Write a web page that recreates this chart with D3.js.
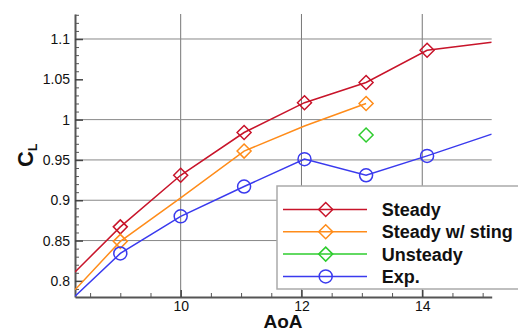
<!DOCTYPE html>
<html>
<head>
<meta charset="utf-8">
<script src="https://cdn.jsdelivr.net/npm/d3@7"></script>
<style>
  body { margin: 0; background: #fff; }
  svg { display: block; font-family: "Liberation Sans", Arial, sans-serif; }
</style>
</head>
<body>
<svg id="chart" width="518" height="334"></svg>
<script>
// values
var xTicks = [10, 12, 14];
var yTicks = [0.8, 0.85, 0.9, 0.95, 1, 1.05, 1.1];
var yTickLabels = ["0.8", "0.85", "0.9", "0.95", "1", "1.05", "1.1"];
var xGrid = [10, 12, 14];
var yGrid = [0.85, 0.9, 0.95, 1, 1.1];

var steadyAoA = [8.25, 9, 10, 11.05, 12.05, 13.07, 14.08, 15.15];
var steadyCL  = [0.811, 0.867, 0.931, 0.984, 1.021, 1.046, 1.086, 1.096];
var steadyMarks = [9, 10, 11.05, 12.05, 13.07, 14.08];

var stingAoA = [8.25, 9, 10, 11.05, 12.05, 13.07];
var stingCL  = [0.789, 0.849, 0.903, 0.961, 0.992, 1.020];
var stingMarks = [9, 11.05, 13.07];

var unsteadyAoA = [13.07];
var unsteadyCL  = [0.981];
var unsteadyMarks = [13.07];

var expAoA = [8.25, 9, 10, 11.05, 12.05, 13.07, 14.08, 15.15];
var expCL  = [0.781, 0.834, 0.880, 0.917, 0.951, 0.931, 0.955, 0.982];
var expMarks = [9, 10, 11.05, 12.05, 13.07, 14.08];

var legendNames = ["Steady", "Steady w/ sting", "Unsteady", "Exp."];

var series = [
  {x: steadyAoA, y: steadyCL, marks: steadyMarks, color: "#c8142a", shape: "diamond"},
  {x: stingAoA, y: stingCL, marks: stingMarks, color: "#ff8c1a", shape: "diamond"},
  {x: unsteadyAoA, y: unsteadyCL, marks: unsteadyMarks, color: "#2ecc2e", shape: "diamond"},
  {x: expAoA, y: expCL, marks: expMarks, color: "#3a3aee", shape: "circle"}
];

var svg = d3.select("#chart");
var pLeft = 75, pRight = 491.7, pTop = 14, pBottom = 297;

var x = d3.scaleLinear().domain([8.25, 15.15]).range([pLeft, pRight]);
var y = d3.scaleLinear().domain([0.78, 1.131]).range([pBottom, pTop]);

svg.append("defs").append("clipPath").attr("id", "plotclip")
  .append("rect").attr("x", pLeft).attr("y", pTop)
  .attr("width", pRight - pLeft).attr("height", pBottom - pTop);

// grid
svg.append("g").selectAll("line").data(xGrid).enter().append("line")
  .attr("x1", function(d){ return x(d); }).attr("x2", function(d){ return x(d); })
  .attr("y1", pTop).attr("y2", pBottom)
  .attr("stroke", "#777").attr("stroke-width", 1);
svg.append("g").selectAll("line").data(yGrid).enter().append("line")
  .attr("x1", pLeft).attr("x2", pRight)
  .attr("y1", function(d){ return y(d); }).attr("y2", function(d){ return y(d); })
  .attr("stroke", "#888").attr("stroke-width", 1);

// minor ticks
var xMinor = d3.range(8.5, 15.01, 0.5).filter(function(v){ return v % 2 !== 0; });
var yMinor = d3.range(0.79, 1.131, 0.01).filter(function(v){
  return Math.abs(Math.round(v * 20) - v * 20) > 0.01;
});
svg.append("g").attr("transform", "translate(0," + pBottom + ")")
  .call(d3.axisBottom(x).tickValues(xMinor).tickSize(-4).tickFormat(""))
  .call(function(g){ g.select(".domain").remove(); g.selectAll("line").attr("stroke", "#555"); });
svg.append("g").attr("transform", "translate(" + pLeft + ",0)")
  .call(d3.axisLeft(y).tickValues(yMinor).tickSize(-4).tickFormat(""))
  .call(function(g){ g.select(".domain").remove(); g.selectAll("line").attr("stroke", "#555"); });

// major axes
var xAxis = svg.append("g").attr("transform", "translate(0," + pBottom + ")")
  .call(d3.axisBottom(x).tickValues(xTicks).tickSize(-7).tickSizeOuter(0).tickPadding(4)
    .tickFormat(d3.format("d")));
var yAxis = svg.append("g").attr("transform", "translate(" + pLeft + ",0)")
  .call(d3.axisLeft(y).tickValues(yTicks).tickSize(-8).tickSizeOuter(0).tickPadding(5)
    .tickFormat(function(d, i){ return yTickLabels[i]; }));
[xAxis, yAxis].forEach(function(g){
  g.select(".domain").attr("stroke", "#555").attr("stroke-width", 2);
  g.selectAll(".tick line").attr("stroke", "#444").attr("stroke-width", 1.5);
  g.selectAll(".tick text").attr("fill", "#111").style("font-size", "14px")
    .style("font-family", "Liberation Sans, Arial, sans-serif");
});

// series
var plot = svg.append("g").attr("clip-path", "url(#plotclip)");
var line = d3.line().x(function(d){ return x(d[0]); }).y(function(d){ return y(d[1]); });

function drawMarker(g, shape, cx, cy, color) {
  if (shape === "circle") {
    g.append("circle").attr("cx", cx).attr("cy", cy).attr("r", 6.5)
      .attr("fill", "none").attr("stroke", color).attr("stroke-width", 1.5);
  } else {
    var s = 7;
    g.append("path")
      .attr("d", "M" + cx + "," + (cy - s) + "L" + (cx + s) + "," + cy + "L" + cx + "," + (cy + s) + "L" + (cx - s) + "," + cy + "Z")
      .attr("fill", "none").attr("stroke", color).attr("stroke-width", 1.5);
  }
}

series.forEach(function(s){
  var pts = s.x.map(function(v, i){ return [v, s.y[i]]; });
  if (pts.length > 1) {
    plot.append("path").datum(pts).attr("d", line)
      .attr("fill", "none").attr("stroke", s.color).attr("stroke-width", 1.5);
  }
  pts.forEach(function(p){
    if (s.marks.indexOf(p[0]) >= 0) drawMarker(plot, s.shape, x(p[0]), y(p[1]), s.color);
  });
});

// legend
var lg = svg.append("g");
lg.append("rect").attr("x", 277).attr("y", 186).attr("width", 260).attr("height", 103)
  .attr("fill", "#fff").attr("stroke", "#aaa").attr("stroke-width", 1.5);
series.forEach(function(s, i){
  var cy = 209.5 + i * 22.3;
  lg.append("line").attr("x1", 283).attr("x2", 367).attr("y1", cy).attr("y2", cy)
    .attr("stroke", s.color).attr("stroke-width", 1.5);
  drawMarker(lg, s.shape, 325.7, cy, s.color);
  lg.append("text").attr("x", 381.7).attr("y", cy + 6.5)
    .attr("font-size", "18px").attr("font-weight", "bold").attr("fill", "#111")
    .text(legendNames[i]);
});

// axis titles
svg.append("text").attr("x", 283).attr("y", 328).attr("text-anchor", "middle")
  .attr("font-size", "19px").attr("font-weight", "bold").attr("fill", "#111").text("AoA");

var cl = svg.append("text").attr("transform", "translate(33,167) rotate(-90)")
  .attr("font-weight", "bold").attr("fill", "#111");
cl.append("tspan").attr("font-size", "22px").text("C");
cl.append("tspan").attr("font-size", "12px").attr("dy", "4").text("L");
</script>
</body>
</html>
